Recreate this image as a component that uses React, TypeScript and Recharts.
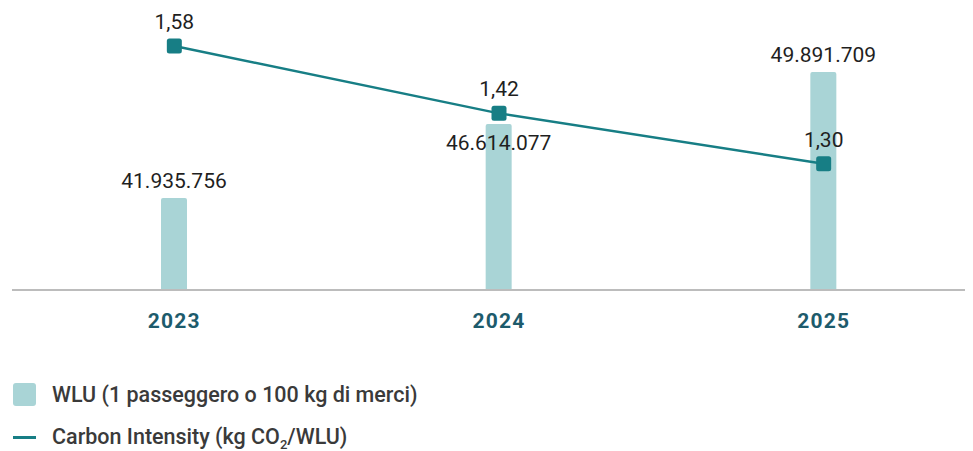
import React from "react";
import { ComposedChart, Bar, Line, XAxis, YAxis, LabelList } from "recharts";

const years = ["2023", "2024", "2025"];
const wlu = [41935756, 46614077, 49891709];
const intensity = [1.58, 1.42, 1.3];
const wluLabels = ["41.935.756", "46.614.077", "49.891.709"];
const intensityLabels = ["1,58", "1,42", "1,30"];

const data = years.map((y, i) => ({
  year: y,
  wlu: wlu[i],
  ci: intensity[i],
  wluLabel: wluLabels[i],
  ciLabel: intensityLabels[i],
}));

const FONT = "Roboto, 'Noto Sans', sans-serif";
const BAR = "#a9d4d6";
const LINE = "#177e85";

const SquareDot = (props: any) => {
  const { cx, cy } = props;
  if (cx == null || cy == null) return null;
  return <rect x={cx - 7.5} y={cy - 7.5} width={15} height={15} rx={2.5} fill={LINE} />;
};

const BarLabel = (props: any) => {
  const { x, y, width, index } = props;
  const inside = index === 1;
  return (
    <text
      x={x + width / 2}
      y={inside ? y + 26 : y - 10}
      textAnchor="middle"
      fontSize={21}
      fontFamily={FONT}
      fill="#1f1f1f"
    >
      {wluLabels[index]}
    </text>
  );
};

const LineLabel = (props: any) => {
  const { x, y, index } = props;
  return (
    <text x={x} y={y - 17} textAnchor="middle" fontSize={21} fontFamily={FONT} fill="#1f1f1f">
      {intensityLabels[index]}
    </text>
  );
};

const XTick = (props: any) => {
  const { x, y, payload } = props;
  return (
    <text
      x={x}
      y={y + 30}
      textAnchor="middle"
      fontSize={21}
      fontWeight={700}
      letterSpacing={1.2}
      fontFamily={FONT}
      fill="#1d5b6c"
    >
      {payload.value}
    </text>
  );
};

export default function App() {
  return (
    <div style={{ position: "relative", width: 965, height: 443, fontFamily: FONT, overflow: "hidden" }}>
      <ComposedChart
        width={965}
        height={332}
        data={data}
        margin={{ top: 12, right: 1, bottom: 0, left: 4 }}
      >
        <XAxis
          dataKey="year"
          axisLine={{ stroke: "#bcbcbc", strokeWidth: 2 }}
          tickLine={false}
          tick={<XTick />}
          height={50}
          padding={{ left: 0, right: -14 }}
        />
        <YAxis yAxisId="bar" hide domain={[36130000, 53180000]} allowDataOverflow />
        <YAxis yAxisId="line" hide orientation="right" domain={[1.0, 1.642]} allowDataOverflow />
        <Bar
          yAxisId="bar"
          dataKey="wlu"
          fill={BAR}
          barSize={26}
          radius={[2, 2, 0, 0]}
          isAnimationActive={false}
        >
          <LabelList dataKey="wluLabel" content={<BarLabel />} />
        </Bar>
        <Line
          yAxisId="line"
          dataKey="ci"
          stroke={LINE}
          strokeWidth={2.5}
          dot={<SquareDot />}
          activeDot={false}
          isAnimationActive={false}
        >
          <LabelList dataKey="ciLabel" content={<LineLabel />} />
        </Line>
      </ComposedChart>
      <div style={{ position: "absolute", left: 5, top: 374, display: "flex", alignItems: "center" }}>
        <div style={{ width: 23, height: 23, background: BAR, borderRadius: 3 }} />
        <span style={{ marginLeft: 16, fontSize: 21.5, fontWeight: 500, color: "#3a3a3a" }}>
          WLU (1 passeggero o 100 kg di merci)
        </span>
      </div>
      <div style={{ position: "absolute", left: 5, top: 417, display: "flex", alignItems: "center", lineHeight: "24px" }}>
        <div style={{ width: 23, height: 3, background: LINE }} />
        <span style={{ marginLeft: 16, fontSize: 21.5, fontWeight: 500, color: "#3a3a3a" }}>
          Carbon Intensity (kg CO
          <span style={{ fontSize: 13, position: "relative", top: 5, lineHeight: 0 }}>2</span>
          /WLU)
        </span>
      </div>
    </div>
  );
}
